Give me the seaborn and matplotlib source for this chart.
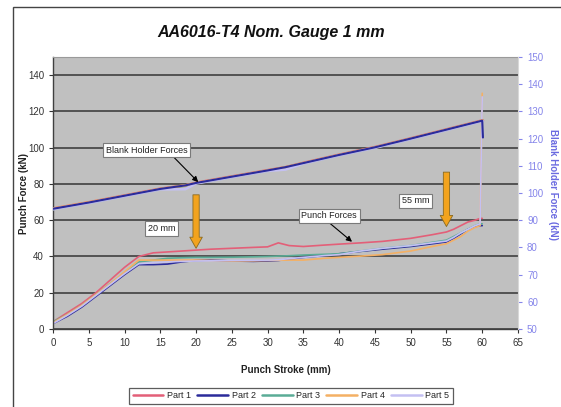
import matplotlib
matplotlib.use("Agg")
import matplotlib.pyplot as plt
import seaborn as sns
import pandas as pd
from matplotlib.lines import Line2D
from matplotlib.patches import Rectangle

# ---------------- data ----------------
parts = ["Part 1", "Part 2", "Part 3", "Part 4", "Part 5"]
part_colors = ["#e35f78", "#2b2b9a", "#5aac96", "#f4b064", "#c4c0f2"]

stroke = [0, 2, 4, 6, 8, 10, 12, 14, 16, 18, 20, 22, 25, 28, 30, 31.5, 33, 35,
          38, 40, 43, 46, 50, 53, 55, 56, 57, 58, 59, 59.7, 60]
punch_p1 = [4, 9, 14, 20, 27, 34, 40, 42, 42.5, 43, 43.5, 44, 44.5, 45, 45.3, 47.5, 46, 45.5,
            46.3, 46.8, 47.5, 48.3, 50, 52, 53.5, 55, 57, 59, 60, 61, 61]
punch_p2 = [3, 7, 12, 18, 24, 30, 35.5, 35.5, 35.8, 37, 37.8, 38, 37.5, 37.3, 37.5, 37.8, 38.5, 39.5,
            40.5, 41.5, 42.8, 44, 45.5, 47, 48, 50, 52.5, 55, 56.5, 57, 57]
punch_p3 = [4, 8, 13, 19, 25, 31, 37, 38, 39, 39.3, 39.5, 39.5, 39.6, 39.8, 40, 40.2, 40.4, 40.8,
            41.2, 41.5, 43, 44.5, 46, 47.8, 49, 51, 53, 55, 57, 58, 58]
punch_p4 = [3.5, 8, 13, 19, 25, 31.5, 38, 38, 38, 38, 38, 37.8, 37.5, 37.6, 37.8, 37.9, 38, 38,
            39, 39.5, 40.2, 41, 43, 45.5, 47, 49, 51, 54, 56, 57, 130]
punch_p5 = [3, 7.5, 12.5, 18.5, 24.5, 30.5, 36, 36.5, 37, 37.3, 37.5, 37.6, 37.8, 37.9, 38, 38.2, 38.8, 39.5,
            40.5, 41, 43, 44.5, 46, 47.5, 48.5, 50.5, 53, 55, 57, 58, 128]
punch_forces = [punch_p1, punch_p2, punch_p3, punch_p4, punch_p5]

bh_stroke = [0, 5, 10, 15, 18.5, 20, 25, 30, 32.5, 35, 40, 45, 50, 55, 60, 60.1]
bh_p1 = [94.3, 96.6, 99.1, 101.6, 102.8, 103.8, 106.1, 108.4, 109.5, 111.1, 114.1, 116.9, 120.1, 123.4, 126.7, 126.7]
bh_p2 = [94.2, 96.5, 99.0, 101.5, 102.8, 103.7, 106.0, 108.3, 109.5, 111.0, 114.0, 116.8, 120.0, 123.3, 126.6, 120.4]
bh_p3 = [94.1, 96.4, 98.9, 101.4, 102.7, 103.6, 105.9, 108.2, 109.4, 110.9, 113.9, 116.7, 119.9, 123.2, 126.5, 126.5]
bh_p4 = [94.3, 96.6, 99.0, 101.5, 102.8, 103.7, 106.0, 108.3, 109.5, 111.0, 114.0, 116.8, 120.0, 123.3, 126.6, 126.6]
bh_p5 = [94.0, 96.3, 98.8, 101.3, 101.4, 103.5, 105.8, 108.1, 108.6, 110.8, 113.8, 116.6, 119.8, 123.1, 126.4, 126.4]
bh_forces = [bh_p1, bh_p2, bh_p3, bh_p4, bh_p5]

x_ticks = list(range(0, 70, 5))
left_ticks = list(range(0, 141, 20))
right_ticks = list(range(50, 151, 10))

# ---------------- tables ----------------
punch_df = pd.concat(
    [pd.DataFrame({"stroke": stroke, "force": vals, "part": p})
     for p, vals in zip(parts, punch_forces)], ignore_index=True)
bh_df = pd.concat(
    [pd.DataFrame({"stroke": bh_stroke, "force": vals, "part": p})
     for p, vals in zip(parts, bh_forces)], ignore_index=True)
palette = dict(zip(parts, part_colors))

# ---------------- style ----------------
sns.set_style("white")
plt.rcParams["font.family"] = ["Liberation Sans", "DejaVu Sans"]

W, H = 561, 407
fig = plt.figure(figsize=(W / 100, H / 100), dpi=100)
L, R, T, B = 53, 518, 57, 329
ax = fig.add_axes([L / W, 1 - B / H, (R - L) / W, (B - T) / H])
ax.set_facecolor("#c0c0c0")

# punch forces (left axis)
sns.lineplot(data=punch_df, x="stroke", y="force", hue="part", palette=palette,
             units="part", estimator=None, sort=False, legend=False, lw=1.2, ax=ax)

ax.set_xlim(0, 65)
ax.set_ylim(0, 150)
ax.set_xticks(x_ticks)
ax.set_yticks(left_ticks)
ax.grid(axis="y", color="#4a4a4a", lw=1.3)
ax.grid(axis="x", visible=False)
ax.set_axisbelow(True)
ax.tick_params(direction="out", length=3, width=0.8, labelsize=7, colors="#333333",
               left=True, bottom=True)
for s in ["left", "bottom"]:
    ax.spines[s].set_color("#404040")
    ax.spines[s].set_linewidth(1.0)
ax.spines["top"].set_color("#9a9a9a")
ax.spines["right"].set_visible(False)
ax.set_xlabel("Punch Stroke (mm)", fontsize=7, fontweight="bold", color="#222222")
ax.set_ylabel("Punch Force (kN)", fontsize=7, fontweight="bold", color="#222222")
ax.xaxis.set_label_coords(0.5, -0.132)
ax.yaxis.set_label_coords(-0.052, 0.5)

# blank holder forces (right axis)
ax2 = ax.twinx()
sns.lineplot(data=bh_df[bh_df.part != "Part 2"], x="stroke", y="force", hue="part",
             palette=palette, units="part", estimator=None, sort=False, legend=False,
             lw=1.8, ax=ax2)
sns.lineplot(data=bh_df[bh_df.part == "Part 2"], x="stroke", y="force", hue="part",
             palette=palette, estimator=None, sort=False, legend=False, lw=1.5, ax=ax2)
ax2.set_ylim(50, 150)
ax2.set_yticks(right_ticks)
ax2.tick_params(direction="out", length=3, width=0.8, labelsize=7, colors="#8585ea", right=True)
for s in ["left", "top", "bottom"]:
    ax2.spines[s].set_visible(False)
ax2.spines["right"].set_color("#d8d8d8")
ax2.set_ylabel("Blank Holder Force (kN)", fontsize=7, fontweight="bold", color="#6a6ae0",
               rotation=270, labelpad=8)
ax2.yaxis.set_label_coords(1.085, 0.53)

# ---------------- annotations ----------------
box = dict(boxstyle="square,pad=0.3", fc="white", ec="#7a7a7a", lw=0.8)
tr = ax.transData
ax2.annotate("Blank Holder Forces", xy=(20.3, 81), xycoords=tr, xytext=(13.1, 98.7), textcoords=tr,
             ha="center", va="center", fontsize=6.5, color="#222222", bbox=box,
             arrowprops=dict(arrowstyle="-|>,head_length=0.5,head_width=0.25", color="black",
                             lw=0.8, relpos=(0.8, 0), shrinkA=0, shrinkB=0))
ax2.annotate("Punch Forces", xy=(41.8, 48.1), xycoords=tr, xytext=(38.6, 62.4), textcoords=tr,
             ha="center", va="center", fontsize=6.5, color="#222222", bbox=box,
             arrowprops=dict(arrowstyle="-|>,head_length=0.5,head_width=0.25", color="black",
                             lw=0.8, relpos=(0.45, 0), shrinkA=0, shrinkB=0))
ax2.annotate("20 mm", xy=(15.2, 55.5), xycoords=tr, ha="center", va="center",
             fontsize=6.5, color="#222222", bbox=box)
ax2.annotate("55 mm", xy=(50.7, 70.6), xycoords=tr, ha="center", va="center",
             fontsize=6.5, color="#222222", bbox=box)
fat = dict(arrowstyle="simple,head_width=0.9,head_length=0.8,tail_width=0.45",
           fc="#f2a31e", ec="#8a6a20", lw=0.6, shrinkA=0, shrinkB=0)
ax2.annotate("", xy=(20, 44.5), xycoords=tr, xytext=(20, 74), textcoords=tr, arrowprops=fat)
ax2.annotate("", xy=(55, 56.5), xycoords=tr, xytext=(55, 86.5), textcoords=tr, arrowprops=fat)

# ---------------- title, legend, frame ----------------
fig.text(271 / W, 1 - 33 / H, "AA6016-T4 Nom. Gauge 1 mm", ha="center", va="center",
         fontsize=11.5, fontweight="bold", fontstyle="italic", color="#111111")

handles = [Line2D([0], [0], color=c, lw=1.8) for c in part_colors]
leg = fig.legend(handles, parts, loc="center", bbox_to_anchor=(291 / W, 1 - 396 / H), ncol=5,
                 fontsize=6.5, frameon=True, fancybox=False, edgecolor="#333333",
                 handlelength=3.4, columnspacing=0.7, handletextpad=0.4, borderpad=0.35)
leg.get_frame().set_linewidth(0.9)

fig.patches.append(Rectangle((13 / W, -0.05), 1.1, 1.05 - 7 / H, transform=fig.transFigure,
                             fill=False, ec="#444444", lw=1.0, clip_on=False))

fig.savefig("out.png", dpi=100)
